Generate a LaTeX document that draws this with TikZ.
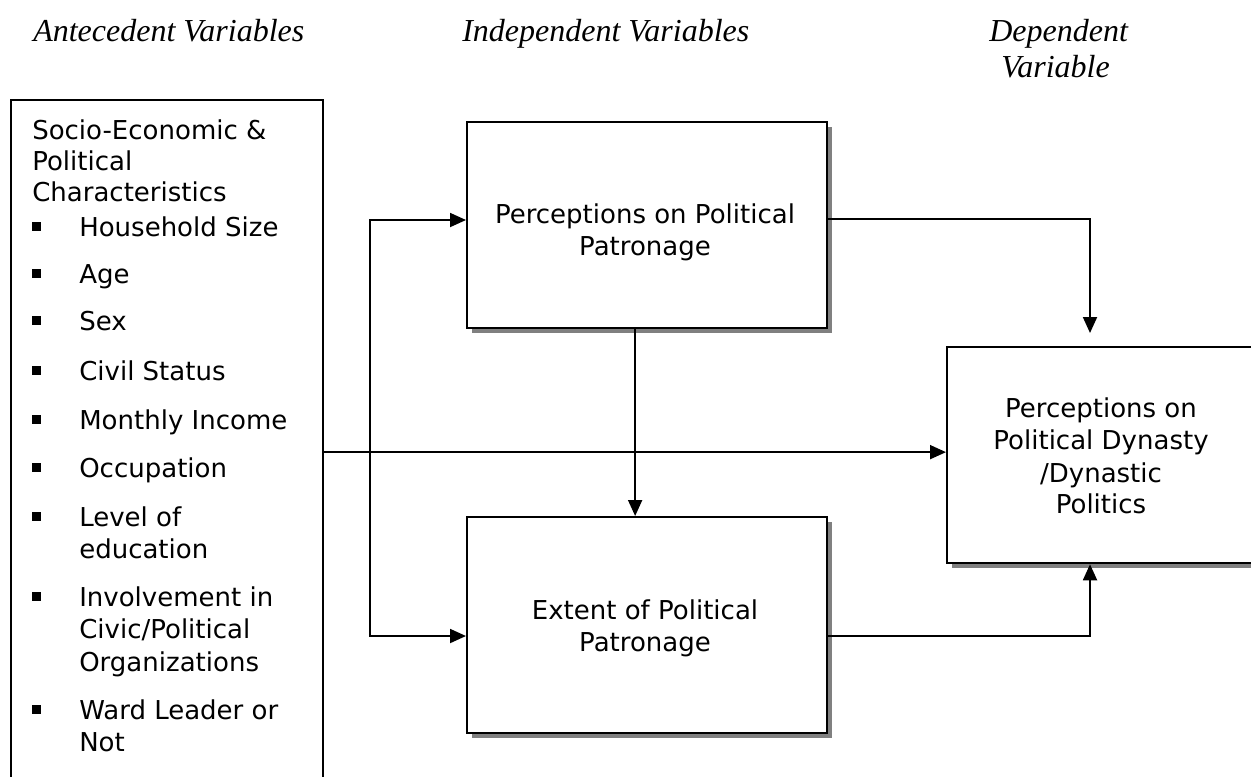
\documentclass[tikz,border=0pt]{standalone}
\usepackage{fontspec}
\setmainfont{Liberation Serif}
\newfontfamily\vfont{DejaVu Sans}
\usetikzlibrary{arrows.meta,shadows}
\tikzset{
  cbox/.style={draw, line width=1.7pt, fill=white, inner sep=0pt, anchor=north west},
  shad/.style={general shadow={fill=black!50, shadow xshift=3.75pt, shadow yshift=-3.75pt}},
  conn/.style={line width=1.4pt},
  arr/.style={conn, -{Triangle[length=12pt,width=10.5pt]}},
  txt/.style={font=\vfont\fontsize{19.5}{24}\selectfont, inner sep=0pt, anchor=base west},
  ctxt/.style={txt, anchor=base},
  hdr/.style={font=\itshape\fontsize{24}{29}\selectfont, inner sep=0pt, anchor=base west},
  bul/.style={fill=black, draw=none, inner sep=0pt, minimum size=6.75pt},
}
\begin{document}
\begin{tikzpicture}[x=0.75pt,y=-0.75pt]
\useasboundingbox (0,0) rectangle (1251,776);
% headers
\node[hdr] (h1) at (33,41) {Antecedent Variables};
\node[hdr] (h2) at (462,41) {Independent Variables};
\node[hdr] (h3) at (989,41) {Dependent};
\node[hdr] (h4) at (1001,77) {Variable};
% boxes
\node[cbox, minimum width=234pt, minimum height=528pt] (ante) at (10,99) {};
\node[cbox, shad, minimum width=270pt, minimum height=154.5pt] (ppp) at (466,121) {};
\node[cbox, shad, minimum width=270pt, minimum height=162pt] (epp) at (466,516) {};
\node[cbox, shad, minimum width=232.5pt, minimum height=162pt] (dv) at (946,346) {};
% left box text
\node[txt] (s1) at (32,139) {Socio-Economic \&};
\node[txt] (s2) at (32,170) {Political};
\node[txt] (s3) at (32,201) {Characteristics};
\node[txt] (i1) at (79,236) {Household Size};
\node[txt] (i2) at (79,283) {Age};
\node[txt] (i3) at (79,330) {Sex};
\node[txt] (i4) at (79,380) {Civil Status};
\node[txt] (i5) at (79,429) {Monthly Income};
\node[txt] (i6) at (79,477) {Occupation};
\node[txt] (i7) at (79,526) {Level of};
\node[txt] (i7b) at (79,558) {education};
\node[txt] (i8) at (79,606) {Involvement in};
\node[txt] (i8b) at (79,638) {Civic/Political};
\node[txt] (i8c) at (79,671) {Organizations};
\node[txt] (i9) at (79,719) {Ward Leader or};
\node[txt] (i9b) at (79,751) {Not};
\foreach \n/\yy in {1/236,2/283,3/330,4/380,5/429,6/477,7/526,8/606,9/719}
  \node[bul] (b\n) at (36.5,\yy-10) {};
% box texts
\node[ctxt] (p1) at (645,223) {Perceptions on Political};
\node[ctxt] (p2) at (645,255) {Patronage};
\node[ctxt] (e1) at (645,619) {Extent of Political};
\node[ctxt] (e2) at (645,651) {Patronage};
\node[ctxt] (d1) at (1101,417) {Perceptions on};
\node[ctxt] (d2) at (1101,449) {Political Dynasty};
\node[ctxt] (d3) at (1101,482) {/Dynastic};
\node[ctxt] (d4) at (1101,513) {Politics};
% connectors
\coordinate (ftop) at (370,220);
\coordinate (fbot) at (370,636);
\coordinate (rtop) at (1090,219);
\coordinate (rbot) at (1090,636);
\draw[conn, {Triangle[length=12pt,width=10.5pt]}-{Triangle[length=12pt,width=10.5pt]}]
  (ppp.west |- ftop) -- (ftop) -- (fbot) -- (epp.west |- fbot);
\draw[arr] (ante.east) -- (dv.west |- ante.east);
\draw[arr] ([xshift=-9pt]ppp.south) -- ([xshift=-9pt]epp.north);
\draw[arr] (ppp.east |- rtop) -- (rtop) -- ([yshift=9.75pt]dv.north -| rtop);
\draw[arr] (epp.east |- rbot) -- (rbot) -- (dv.south -| rbot);
\end{tikzpicture}
\end{document}
